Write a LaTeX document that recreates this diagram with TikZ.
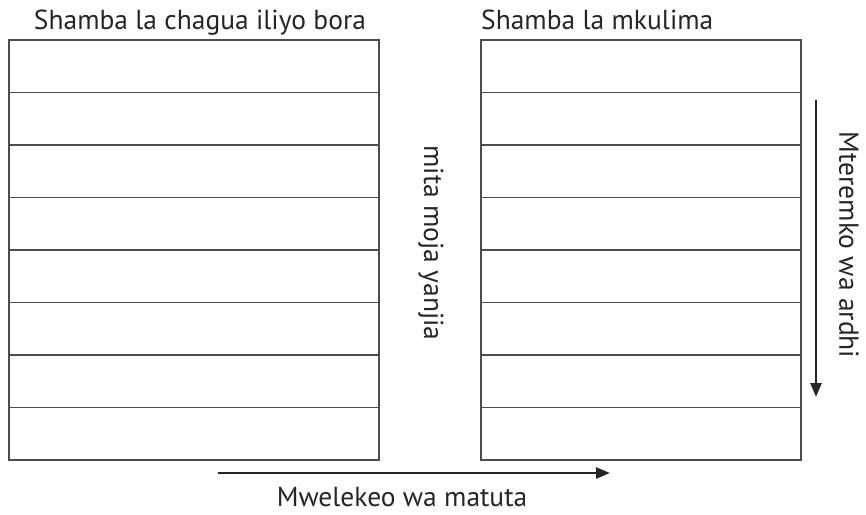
\documentclass[tikz,border=0pt]{standalone}
\usepackage{fontspec}
\setmainfont{PT Sans}
\usetikzlibrary{arrows.meta}
\begin{document}
\begin{tikzpicture}[x=1pt,y=-1pt,
  field/.style={draw=black!70,line width=1.3pt},
  rowline/.style={draw=black!70,line width=1.3pt},
  dirarrow/.style={draw=black!85,line width=2.6pt,-{Triangle[length=14pt,width=11pt]}},
  lbl/.style={font=\fontsize{27.5}{32}\selectfont,text=black!85,inner sep=0pt}]
\useasboundingbox (0,0) rectangle (866,514);
% fields
\foreach \x/\w in {9/370,481/320}{
  \draw[field] (\x,40) rectangle ++(\w,420);
  \foreach \k in {1,...,7}{
    \draw[rowline] (\x,40+52.5*\k) -- ++(\w,0);
  }
}
% titles
\node[lbl,anchor=base] (tl) at (200,29) {Shamba la chagua iliyo bora};
\node[lbl,anchor=base west] (tr) at (481,29) {Shamba la mkulima};
% arrows
\coordinate (h1) at (218,473);
\coordinate (h2) at (610,473);
\draw[dirarrow] (h1) -- (h2);
\node[lbl,anchor=base] (hb) at (402,506) {Mwelekeo wa matuta};
\coordinate (v1) at (816,100);
\coordinate (v2) at (816,397);
\draw[dirarrow] (v1) -- (v2);
\node[lbl,rotate=-90] (vr) at (849,245) {Mteremko wa ardhi};
\node[lbl,rotate=-90] (mid) at (431,243) {mita moja yanjia};
\end{tikzpicture}
\end{document}
